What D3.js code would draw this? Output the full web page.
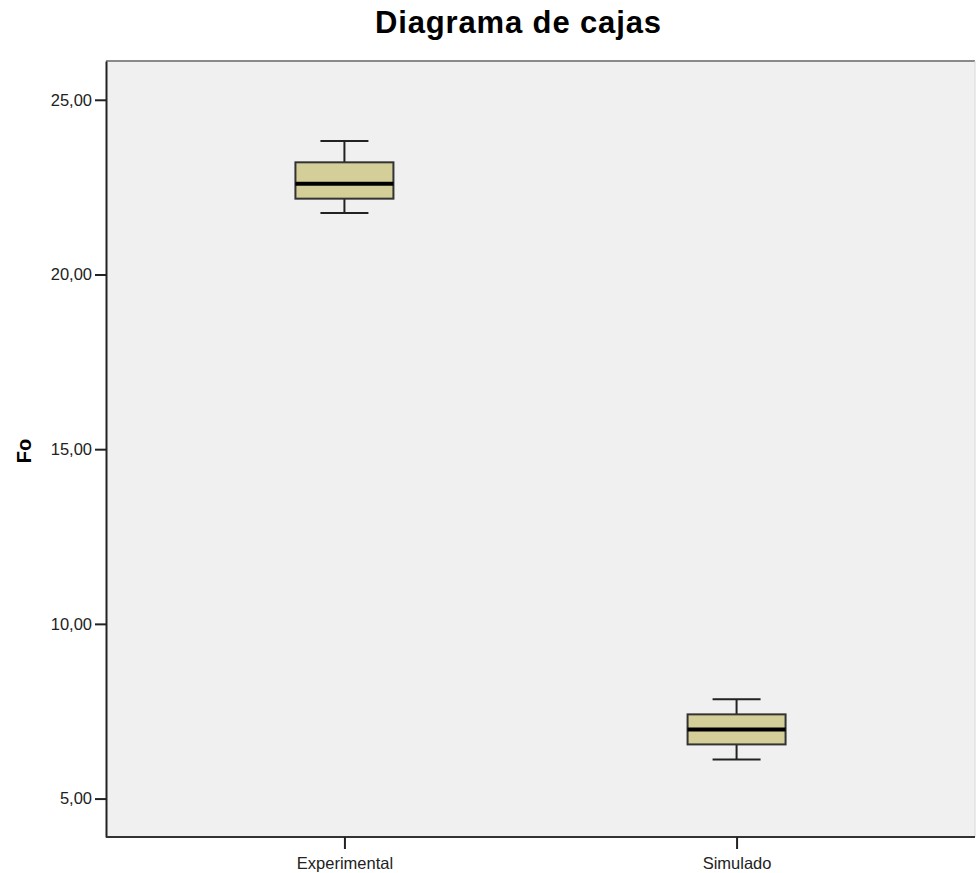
<!DOCTYPE html>
<html>
<head>
<meta charset="utf-8">
<script src="https://cdn.jsdelivr.net/npm/d3@7"></script>
<style>
  html, body { margin: 0; padding: 0; background: #ffffff; }
  svg { display: block; }
</style>
</head>
<body>
<script>
// Box plot summary values for Fo per group
const categories = ["Experimental", "Simulado"];
const whiskerLow  = [21.76, 6.12];
const q1          = [22.17, 6.55];
const median      = [22.60, 6.98];
const q3          = [23.21, 7.41];
const whiskerHigh = [23.82, 7.84];
const yTicks = [5, 10, 15, 20, 25];

const W = 976, H = 873;
const plot = { left: 106, right: 975, top: 61, bottom: 837 };
const labelFont = "'Liberation Sans', Arial, sans-serif";

const svg = d3.select("body").append("svg")
  .attr("width", W).attr("height", H);

const y = d3.scaleLinear().domain([3.90, 26.11]).range([plot.bottom, plot.top]);
const x = d3.scalePoint().domain(categories).range([plot.left, plot.right]).padding(0.608);

// plot background
svg.append("rect")
  .attr("x", plot.left).attr("y", plot.top)
  .attr("width", plot.right - plot.left).attr("height", plot.bottom - plot.top)
  .attr("fill", "#f0f0f0");

// frame: top and right edges
svg.append("line").attr("x1", plot.left).attr("x2", plot.right)
  .attr("y1", plot.top).attr("y2", plot.top)
  .attr("stroke", "#8a8a8a").attr("stroke-width", 2);
svg.append("line").attr("x1", plot.right).attr("x2", plot.right)
  .attr("y1", plot.top).attr("y2", plot.bottom)
  .attr("stroke", "#d8d8d8").attr("stroke-width", 1);

// y axis
const fmt = d => d3.format(".2f")(d).replace(".", ",");
const yAxis = svg.append("g")
  .attr("transform", `translate(${plot.left},0)`)
  .call(d3.axisLeft(y).tickValues(yTicks).tickFormat(fmt).tickSize(11).tickPadding(3).tickSizeOuter(0));
yAxis.select(".domain").attr("stroke", "#222").attr("stroke-width", 2);
yAxis.selectAll(".tick line").attr("stroke", "#222").attr("stroke-width", 2);
yAxis.selectAll(".tick text")
  .attr("font-family", labelFont).attr("font-size", 16.5).attr("fill", "#222");

// x axis
const xAxis = svg.append("g")
  .attr("transform", `translate(0,${plot.bottom})`)
  .call(d3.axisBottom(x).tickSize(12).tickPadding(8).tickSizeOuter(0));
xAxis.select(".domain").attr("stroke", "#333").attr("stroke-width", 2)
  .attr("d", `M${plot.left},0H${plot.right}`);
xAxis.selectAll(".tick line").attr("stroke", "#222").attr("stroke-width", 2);
xAxis.selectAll(".tick text")
  .attr("font-family", labelFont).attr("font-size", 16.5).attr("fill", "#222");

// boxes
const boxW = 98, capW = 48;
const g = svg.append("g");
categories.forEach((c, i) => {
  const cx = x(c);
  const grp = g.append("g");
  grp.append("line").attr("x1", cx).attr("x2", cx)
    .attr("y1", y(whiskerHigh[i])).attr("y2", y(q3[i]))
    .attr("stroke", "#222").attr("stroke-width", 2);
  grp.append("line").attr("x1", cx).attr("x2", cx)
    .attr("y1", y(q1[i])).attr("y2", y(whiskerLow[i]))
    .attr("stroke", "#222").attr("stroke-width", 2);
  [whiskerHigh[i], whiskerLow[i]].forEach(v => {
    grp.append("line").attr("x1", cx - capW / 2).attr("x2", cx + capW / 2)
      .attr("y1", y(v)).attr("y2", y(v))
      .attr("stroke", "#222").attr("stroke-width", 2);
  });
  grp.append("rect")
    .attr("x", cx - boxW / 2).attr("y", y(q3[i]))
    .attr("width", boxW).attr("height", y(q1[i]) - y(q3[i]))
    .attr("fill", "#d4cf98").attr("stroke", "#333").attr("stroke-width", 2);
  grp.append("line").attr("x1", cx - boxW / 2).attr("x2", cx + boxW / 2)
    .attr("y1", y(median[i])).attr("y2", y(median[i]))
    .attr("stroke", "#000").attr("stroke-width", 4);
});

// title
svg.append("text")
  .attr("x", 518).attr("y", 33)
  .attr("text-anchor", "middle")
  .attr("font-family", labelFont)
  .attr("font-weight", "bold").attr("font-size", 31).attr("fill", "#000")
  .attr("textLength", 286).attr("lengthAdjust", "spacing")
  .text("Diagrama de cajas");

// y axis title
svg.append("text")
  .attr("transform", `translate(31,${451}) rotate(-90)`)
  .attr("text-anchor", "middle")
  .attr("font-family", labelFont)
  .attr("font-weight", "bold").attr("font-size", 20).attr("fill", "#000")
  .text("Fo");
</script>
</body>
</html>
